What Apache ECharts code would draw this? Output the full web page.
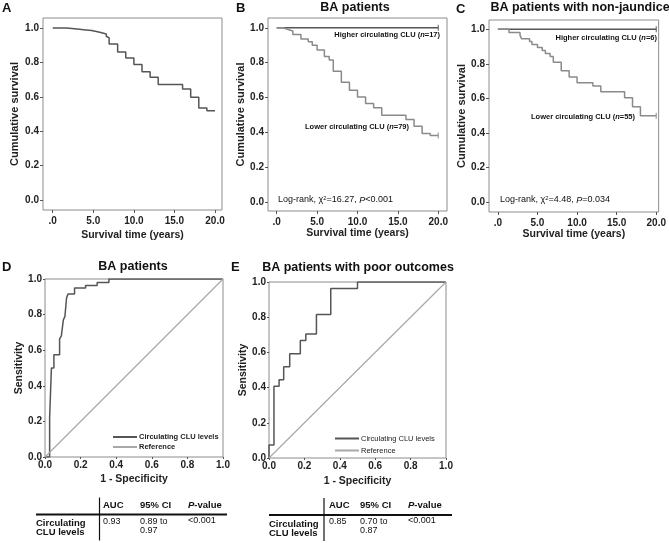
<!DOCTYPE html>
<html><head><meta charset="utf-8">
<script src="https://cdn.jsdelivr.net/npm/echarts@6/dist/echarts.min.js"></script>
<style>html,body{margin:0;padding:0;background:#fff}#c{width:669px;height:543px}</style>
</head><body><div id="c"></div>
<script>
// ---------- data ----------
const survTicks = [0, 5, 10, 15, 20];
const probTicks = [0, 0.2, 0.4, 0.6, 0.8, 1.0];
// Panel A: all BA patients (time in years, cumulative survival)
const kmAll = [[0,1],[1.7,0.994],[3.0,0.99],[3.8,0.985],[4.8,0.975],[5.8,0.965],[6.6,0.952],[6.8,0.942],[6.95,0.907],[8,0.861],[9,0.826],[10,0.788],[11,0.745],[12,0.714],[13,0.672],[16,0.645],[17,0.598],[18,0.535],[19,0.519],[20,0.519]];
// Panel B: BA patients
const kmBHigh = [[0,1],[20,1]];
const kmBLow = [[0,1],[0.8,0.99],[1.4,0.981],[2.0,0.962],[3.0,0.935],[3.9,0.92],[4.4,0.9],[5.0,0.872],[5.9,0.835],[6.5,0.815],[7.0,0.751],[8.0,0.688],[9.0,0.642],[10.0,0.604],[11.0,0.566],[12.0,0.541],[13.0,0.499],[16.0,0.474],[17.0,0.436],[18.0,0.394],[19.0,0.382],[20.0,0.382]];
// Panel C: BA patients with non-jaundice
const kmCHigh = [[0,1],[20,1]];
const kmCLow = [[0,1],[1.4,0.982],[2.8,0.965],[3.0,0.945],[4.0,0.93],[4.3,0.912],[5.0,0.895],[5.6,0.877],[6.0,0.86],[6.6,0.842],[7.0,0.81],[8.0,0.76],[9.0,0.724],[10.0,0.69],[12.0,0.672],[13.0,0.638],[16.0,0.603],[17.0,0.552],[18.0,0.5],[20.0,0.5]];
// Panel D / E: ROC (1 - specificity, sensitivity)
const rocD = [[0,0],[0.026,0.22],[0.036,0.5],[0.05,0.575],[0.082,0.663],[0.092,0.68],[0.103,0.77],[0.112,0.79],[0.121,0.893],[0.129,0.916],[0.166,0.95],[0.228,0.963],[0.293,0.98],[0.359,1.0],[1.0,1.0]];
const rocE = [[0,0],[0,0.074],[0.028,0.407],[0.057,0.444],[0.083,0.519],[0.117,0.593],[0.177,0.667],[0.208,0.704],[0.268,0.815],[0.349,0.963],[0.5,1.0],[1,1]];
const refLine = [[0,0],[1,1]];
// Tables
const tableHead = ['AUC', '95% CI', 'P-value'];
const tableD = ['0.93', '0.89 to', '0.97', '<0.001'];
const tableE = ['0.85', '0.70 to', '0.87', '<0.001'];

// ---------- style ----------
const FF = '"Liberation Sans", Arial, sans-serif';
const DARK = '#555555', LIGHT = '#8a8a8a', BOX = '#8c8c8c', REF = '#a8a8a8';
const tickFmt = v => v === 0 ? '.0' : v.toFixed(1);

function kmX(gi, min, max, gap) {
  return { gridIndex: gi, type: 'value', min, max,
    axisLine: { show: false, onZero: false },
    axisTick: { show: true, customValues: survTicks, length: 3, lineStyle: { color: '#555' } },
    axisLabel: { customValues: survTicks, formatter: tickFmt, fontSize: 10, fontWeight: 'bold', color: '#222', margin: 6, fontFamily: FF },
    splitLine: { show: false },
    name: 'Survival time (years)', nameLocation: 'middle', nameGap: gap,
    nameTextStyle: { fontSize: 10.5, fontWeight: 'bold', color: '#222', fontFamily: FF } };
}
function kmY(gi, min, max, gap) {
  return { gridIndex: gi, type: 'value', min, max,
    axisLine: { show: false, onZero: false },
    axisTick: { show: true, customValues: probTicks, length: 3, lineStyle: { color: '#555' } },
    axisLabel: { customValues: probTicks, formatter: v => v.toFixed(1), fontSize: 10, fontWeight: 'bold', color: '#222', margin: 4, fontFamily: FF },
    splitLine: { show: false },
    name: 'Cumulative survival', nameLocation: 'middle', nameGap: gap,
    nameTextStyle: { fontSize: 11, fontWeight: 'bold', color: '#222', fontFamily: FF } };
}
function rocAxis(gi, name, gap) {
  return { gridIndex: gi, type: 'value', min: 0, max: 1, interval: 0.2,
    axisLine: { show: false, onZero: false },
    axisTick: { show: true, length: 2, lineStyle: { color: '#555' } },
    axisLabel: { formatter: v => v.toFixed(1), fontSize: 10, fontWeight: 'bold', color: '#222', margin: 3, fontFamily: FF },
    splitLine: { show: false },
    name, nameLocation: 'middle', nameGap: gap,
    nameTextStyle: { fontSize: 10.5, fontWeight: 'bold', color: '#222', fontFamily: FF } };
}
function stepLine(xi, data, color) {
  return { type: 'line', xAxisIndex: xi, yAxisIndex: xi, data, step: 'end', symbol: 'none',
    lineStyle: { color, width: 1.5 }, itemStyle: { color }, animation: false, silent: true };
}
function censor(xi, data, color) {
  return { type: 'scatter', xAxisIndex: xi, yAxisIndex: xi, data: [data[data.length - 1]],
    symbol: 'rect', symbolSize: [1.2, 6], itemStyle: { color }, animation: false, silent: true };
}
function rich(x, y, text, size, weight, align) {
  return { type: 'text', x, y, style: { text, fontFamily: FF, fontSize: size, fontWeight: weight, fill: '#111', align: align || 'left', verticalAlign: 'middle',
    rich: { i: { fontStyle: 'italic', fontSize: size, fontWeight: weight, fontFamily: FF, fill: '#111' },
            s: { fontSize: size * 0.65, fontWeight: weight, fontFamily: FF, fill: '#111', verticalAlign: 'top', padding: [0,0,4,0] } } } };
}
function hline(x1, x2, y, w, c) { return { type: 'line', shape: { x1, y1: y, x2, y2: y }, style: { stroke: c || '#111', lineWidth: w } }; }
function vline(x, y1, y2, w, c) { return { type: 'line', shape: { x1: x, y1, x2: x, y2 }, style: { stroke: c || '#111', lineWidth: w } }; }

function table(x0, lineX, lineR, colX, lineY, vals, yOff) {
  const g = [];
  g.push(vline(lineX, lineY - 17, lineY + 26, 1.2));
  g.push(hline(x0, lineR, lineY, 2.2));
  g.push(rich(colX[0], lineY - 9 + yOff, tableHead[0], 9.5, 'bold'));
  g.push(rich(colX[1], lineY - 9 + yOff, tableHead[1], 9.5, 'bold'));
  g.push(rich(colX[2], lineY - 9 + yOff, '{i|P}-value', 9.5, 'bold'));
  g.push(rich(x0, lineY + 9, 'Circulating', 9.5, 'bold'));
  g.push(rich(x0, lineY + 18, 'CLU levels', 9.5, 'bold'));
  g.push(rich(colX[0], lineY + 7.5 + yOff, vals[0], 9, 'normal'));
  g.push(rich(colX[1], lineY + 7.5 + yOff, vals[1], 9, 'normal'));
  g.push(rich(colX[1], lineY + 16.5 + yOff, vals[2], 9, 'normal'));
  g.push(rich(colX[2], lineY + 6.5 + yOff, vals[3], 9, 'normal'));
  return g;
}

const graphics = [
  // panel letters
  rich(2, 8, 'A', 13, 'bold'),
  rich(236, 8, 'B', 13, 'bold'),
  rich(456, 9, 'C', 13, 'bold'),
  rich(2, 267, 'D', 13, 'bold'),
  rich(231, 267, 'E', 13, 'bold'),
  // panel titles
  rich(355, 8, 'BA patients', 12.5, 'bold', 'center'),
  rich(580, 8, 'BA patients with non-jaundice', 12.5, 'bold', 'center'),
  rich(133, 267, 'BA patients', 12.5, 'bold', 'center'),
  rich(358, 268, 'BA patients with poor outcomes', 12.5, 'bold', 'center'),
  // annotations B
  rich(440, 35, 'Higher circulating CLU ({i|n}=17)', 7.5, 'bold', 'right'),
  rich(409, 127, 'Lower circulating CLU ({i|n}=79)', 7.5, 'bold', 'right'),
  rich(278, 200, 'Log-rank, χ{s|2}=16.27, {i|P}<0.001', 9, 'normal'),
  // annotations C
  rich(657, 38, 'Higher circulating CLU ({i|n}=6)', 7.5, 'bold', 'right'),
  rich(635, 117, 'Lower circulating CLU ({i|n}=55)', 7.5, 'bold', 'right'),
  rich(500, 200, 'Log-rank, χ{s|2}=4.48, {i|P}=0.034', 9, 'normal'),
].concat(
  table(36, 99.5, 227, [103, 140, 188], 514.5, tableD, 0),
  table(269, 324, 452, [329, 360, 408], 515, tableE, -1)
);

const grids = [
  { left: 43, top: 18, width: 179, height: 192 },
  { left: 268, top: 18, width: 179, height: 193 },
  { left: 489, top: 20, width: 172, height: 192 },
  { left: 45, top: 279, width: 178, height: 178 },
  { left: 269, top: 282, width: 177, height: 176 }
].map(g => Object.assign(g, { show: true, borderColor: BOX, borderWidth: 1, backgroundColor: 'transparent' }));

const option = {
  backgroundColor: '#fff',
  animation: false,
  grid: grids,
  xAxis: [
    kmX(0, -1.2, 20.86, 20),
    kmX(1, -1.08, 21.08, 17),
    kmX(2, -1.12, 20.3, 17),
    rocAxis(3, '1 - Specificity', 17),
    rocAxis(4, '1 - Specificity', 18)
  ],
  yAxis: [
    kmY(0, -0.058, 1.058, 23),
    kmY(1, -0.05, 1.056, 20),
    kmY(2, -0.058, 1.054, 20),
    rocAxis(3, 'Sensitivity', 17),
    rocAxis(4, 'Sensitivity', 18)
  ],
  legend: [
    { data: ['Circulating CLU levels', 'Reference'], orient: 'vertical', left: 108, top: 428, itemWidth: 24, itemHeight: 2, itemGap: 2, icon: 'rect',
      textStyle: { fontSize: 7.5, fontWeight: 'bold', color: '#222', fontFamily: FF, padding: [0,0,0,-3] }, selectedMode: false },
    { data: ['Circulating CLU levels', 'Reference'], orient: 'vertical', left: 330, top: 429.5, itemWidth: 24, itemHeight: 2, itemGap: 4, icon: 'rect',
      textStyle: { fontSize: 7.5, fontWeight: 'normal', color: '#222', fontFamily: FF, padding: [0,0,0,-3] }, selectedMode: false }
  ],
  series: [
    stepLine(0, kmAll, DARK),
    stepLine(1, kmBHigh, DARK), censor(1, kmBHigh, DARK),
    stepLine(1, kmBLow, LIGHT), censor(1, kmBLow, LIGHT),
    stepLine(2, kmCHigh, DARK), censor(2, kmCHigh, DARK),
    stepLine(2, kmCLow, LIGHT), censor(2, kmCLow, LIGHT),
    Object.assign(stepLine(3, rocD, DARK), { name: 'Circulating CLU levels' }),
    { name: 'Reference', type: 'line', xAxisIndex: 3, yAxisIndex: 3, data: refLine, symbol: 'none', lineStyle: { color: REF, width: 1.2 }, itemStyle: { color: REF }, silent: true },
    Object.assign(stepLine(4, rocE, DARK), { name: 'Circulating CLU levels' }),
    { name: 'Reference', type: 'line', xAxisIndex: 4, yAxisIndex: 4, data: refLine, symbol: 'none', lineStyle: { color: REF, width: 1.2 }, itemStyle: { color: REF }, silent: true }
  ],
  graphic: graphics
};
const chart = echarts.init(document.getElementById('c'), null, { renderer: 'canvas' });
chart.setOption(option);
</script></body></html>
